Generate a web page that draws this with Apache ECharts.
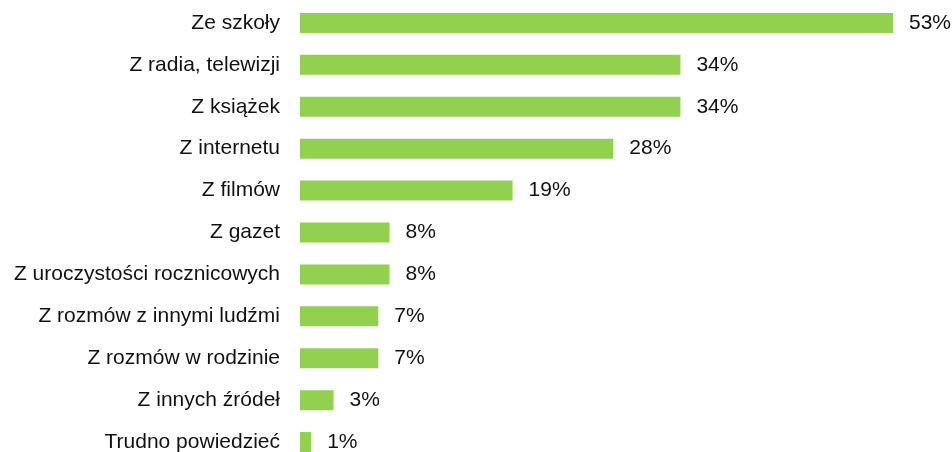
<!DOCTYPE html>
<html>
<head>
    <meta charset="utf-8">
    <title>Źródła wiedzy</title>
    <script type="text/javascript" src="https://cdn.jsdelivr.net/npm/echarts@6/dist/echarts.min.js"></script>
    <style>
        html, body { margin: 0; padding: 0; background: #fff; }
    </style>
</head>
<body>
<div id="bar" style="width:952px;height:452px;"></div>

<script type="text/javascript">
    // kategorie od góry do dołu
    var categories = ['Ze szkoły', 'Z radia, telewizji', 'Z książek', 'Z internetu', 'Z filmów', 'Z gazet',
        'Z uroczystości rocznicowych', 'Z rozmów z innymi ludźmi', 'Z rozmów w rodzinie', 'Z innych źródeł', 'Trudno powiedzieć'];
    var values = [53, 34, 34, 28, 19, 8, 8, 7, 7, 3, 1];

    var myChart = echarts.init(document.getElementById('bar'));

    var option = {
        animation: false,
        grid: {
            left: 300,
            width: 593,
            top: 2,
            height: 461,
            outerBoundsMode: 'none'
        },
        xAxis: {
            type: 'value',
            min: 0,
            max: 53,
            show: false
        },
        yAxis: {
            type: 'category',
            inverse: true,
            data: categories,
            axisLine: { show: false },
            axisTick: { show: false },
            axisLabel: {
                margin: 20,
                color: '#111',
                fontFamily: 'Liberation Sans, Arial, sans-serif',
                fontSize: 21
            }
        },
        series: [
            {
                type: 'bar',
                data: values,
                barWidth: 20,
                itemStyle: { color: '#92d050' },
                label: {
                    show: true,
                    position: 'right',
                    distance: 16,
                    formatter: '{c}%',
                    color: '#111',
                    fontFamily: 'Liberation Sans, Arial, sans-serif',
                    fontSize: 21
                }
            }
        ]
    };
    myChart.setOption(option);
</script>
</body>
</html>
